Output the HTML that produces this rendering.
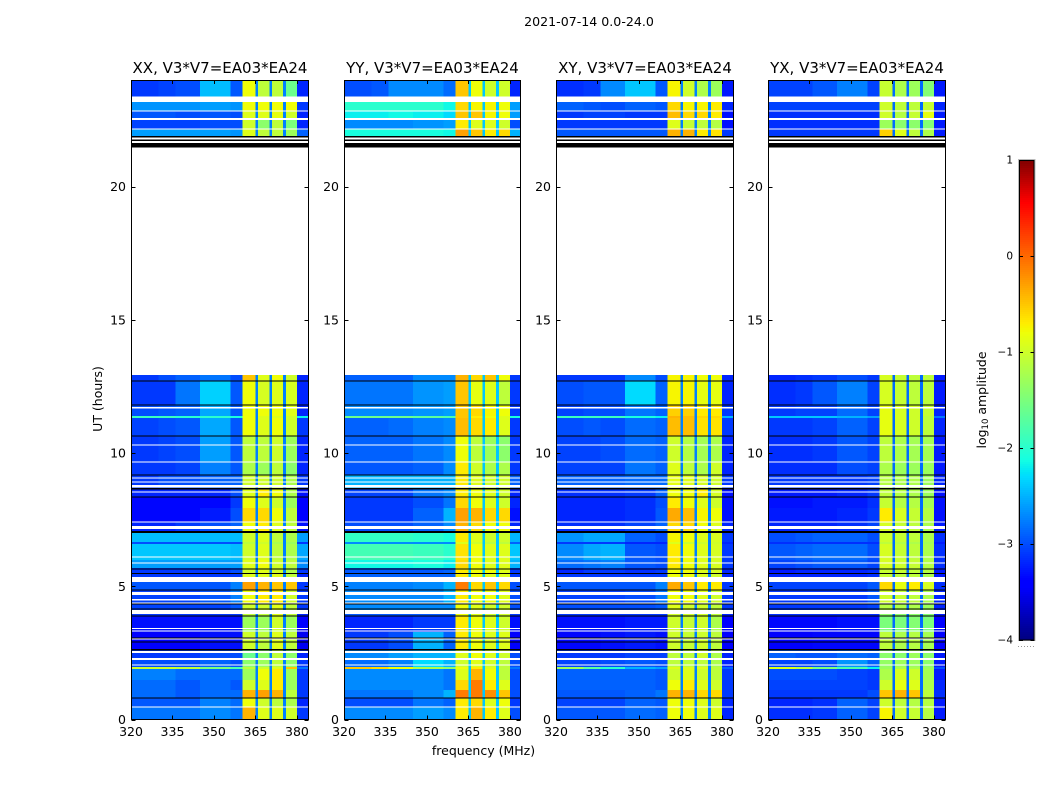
<!DOCTYPE html>
<html lang="en">
<head>
<meta charset="utf-8">
<title>2021-07-14 0.0-24.0</title>
<style>
html,body{margin:0;padding:0;background:#fff;width:1050px;height:800px;overflow:hidden}
svg{display:block}
text{font-family:"DejaVu Sans","Liberation Sans",sans-serif;fill:#000}
</style>
</head>
<body>
<svg id="figure" xmlns="http://www.w3.org/2000/svg" width="1050" height="800" viewBox="0 0 1050 800">
<text x="589" y="26" font-size="12.6" text-anchor="middle">2021-07-14 0.0-24.0</text>
<text x="483.5" y="755" font-size="12.5" text-anchor="middle">frequency (MHz)</text>
<text x="102" y="399" font-size="12.5" text-anchor="middle" transform="rotate(-90 102 399)">UT (hours)</text>
<text x="986" y="400" font-size="12.5" text-anchor="middle" transform="rotate(-90 986 400)">log<tspan font-size="8.5" dy="2">10</tspan><tspan dy="-2"> amplitude</tspan></text>
</svg>
<script>
// Time bands (UT hours), bottom to top; one value row in each series per band.
const hourBands = [[0,0.47],[0.47,0.81],[0.81,1.11],[1.11,1.48],[1.48,1.9],[1.9,1.97],[1.97,2.23],[2.23,2.61],[2.61,3.28],[3.28,3.88],[3.88,4.11],[4.11,4.33],[4.33,4.86],[4.86,5.16],[5.16,5.46],[5.46,5.68],[5.68,5.98],[5.98,6.59],[6.59,6.66],[6.66,7.0],[7.0,7.41],[7.41,7.94],[7.94,8.35],[8.35,8.69],[8.69,9.17],[9.17,9.66],[9.66,10.64],[10.64,11.31],[11.31,11.39],[11.39,11.8],[11.8,12.7],[12.7,12.93],[21.9,22.16],[22.16,22.5],[22.5,22.83],[22.83,23.39],[23.39,24]];
// Frequency columns (MHz) the ten values of each row apply to.
const freqBands = [[320,330],[330,336],[336,345],[345,356],[356,360.4],[360.4,365],[366,370],[371,375],[376,380],[380,384]];
const notchBands = [[365,366],[370,371],[375,376]];
const panelTitles = ["XX, V3*V7=EA03*EA24","YY, V3*V7=EA03*EA24","XY, V3*V7=EA03*EA24","YX, V3*V7=EA03*EA24"];
const xTicks = [320,335,350,365,380];
const yTicks = [0,5,10,15,20];
const colorTicks = [1,0,-1,-2,-3,-4];
// log10 amplitude read by eye, per band and frequency column.
const xxValues = [
[-2.8,-2.8,-2.8,-2.7,-2.8,-0.4,-0.9,-0.9,-1.0,-3.1],
[-2.95,-2.95,-2.95,-2.75,-2.85,-0.8,-1.0,-1.1,-1.2,-3.2],
[-2.85,-2.85,-2.95,-2.85,-2.85,-0.4,-0.3,-0.4,-1.1,-3.1],
[-2.85,-2.85,-2.95,-2.85,-2.95,-1.0,-0.9,-0.7,-1.3,-3.1],
[-2.75,-2.75,-2.85,-2.85,-2.85,-1.3,-0.8,-0.7,-1.3,-3.1],
[-1.0,-1.0,-1.1,-1.5,-1.8,-1.1,-1.0,-0.9,-0.5,-2.8],
[-3.0,-3.0,-3.0,-2.9,-3.0,-1.4,-1.3,-1.1,-1.4,-3.1],
[-3.1,-3.1,-3.1,-3.0,-3.0,-1.6,-1.4,-1.1,-1.4,-3.2],
[-3.4,-3.4,-3.4,-3.3,-3.3,-1.0,-1.1,-0.9,-1.1,-3.5],
[-3.3,-3.3,-3.3,-3.3,-3.3,-1.3,-1.3,-1.0,-1.3,-3.4],
[-3.1,-3.1,-3.1,-3.1,-3.1,-1.1,-1.1,-0.9,-1.1,-3.2],
[-3.05,-3.05,-3.05,-3.05,-2.95,-1.0,-1.0,-0.9,-1.1,-3.1],
[-3.05,-3.05,-3.05,-2.95,-2.75,-0.8,-0.7,-0.7,-1.0,-3.1],
[-2.95,-2.95,-2.95,-2.95,-2.75,-0.3,-0.4,-0.5,-0.5,-3.1],
[-3.1,-3.1,-3.1,-3.1,-3.1,-0.9,-0.9,-0.9,-1.1,-3.2],
[-3.1,-3.1,-3.1,-3.1,-3.0,-1.0,-0.9,-1.0,-1.2,-3.1],
[-2.6,-2.6,-2.6,-2.6,-2.6,-0.9,-0.8,-1.0,-1.1,-2.7],
[-2.4,-2.4,-2.4,-2.4,-2.45,-1.0,-0.9,-1.1,-1.2,-2.55],
[-3.0,-3.0,-3.0,-3.0,-3.0,-1.1,-1.0,-1.2,-1.3,-3.1],
[-2.45,-2.45,-2.45,-2.45,-2.45,-1.0,-0.9,-1.1,-1.2,-2.6],
[-3.2,-3.2,-3.1,-3.0,-2.9,-0.8,-0.7,-0.9,-1.1,-3.3],
[-3.35,-3.35,-3.35,-3.25,-3.0,-0.6,-0.6,-0.8,-1.1,-3.4],
[-3.35,-3.35,-3.35,-3.35,-3.1,-0.8,-0.9,-1.0,-1.3,-3.4],
[-3.2,-3.2,-3.2,-3.2,-3.0,-0.9,-0.7,-0.8,-1.2,-3.3],
[-3.1,-3.0,-3.0,-2.9,-2.9,-1.0,-1.0,-1.0,-1.2,-3.1],
[-3.1,-3.1,-3.05,-2.75,-2.95,-1.2,-1.3,-1.1,-1.4,-3.2],
[-3.1,-3.05,-3.0,-2.6,-2.95,-1.1,-1.1,-1.0,-1.3,-3.2],
[-3.05,-3.0,-2.95,-2.55,-2.95,-0.8,-0.9,-0.8,-1.0,-3.1],
[-1.9,-1.9,-2.0,-2.0,-2.1,-0.8,-0.9,-0.9,-1.0,-2.2],
[-3.0,-2.95,-2.9,-2.55,-2.95,-0.8,-0.8,-0.8,-0.9,-3.2],
[-3.1,-3.1,-2.8,-2.35,-2.95,-0.8,-0.95,-0.9,-0.95,-3.2],
[-3.1,-3.0,-2.9,-2.8,-3.0,-0.5,-0.9,-0.8,-1.0,-3.2],
[-2.6,-2.6,-2.6,-2.6,-2.65,-0.9,-1.1,-1.1,-1.3,-2.9],
[-3.05,-3.05,-3.05,-3.0,-3.0,-1.0,-1.4,-1.1,-1.5,-3.2],
[-2.95,-2.95,-3.0,-2.95,-3.0,-0.9,-0.9,-0.85,-1.0,-3.2],
[-2.65,-2.65,-2.65,-2.6,-2.65,-0.8,-0.8,-0.8,-0.8,-3.1],
[-3.1,-3.05,-3.0,-2.45,-2.95,-0.8,-1.1,-1.1,-1.6,-3.2]
];
const yyValues = [
[-2.7,-2.7,-2.7,-2.6,-2.7,-0.7,-0.4,-0.7,-0.9,-3.0],
[-3.0,-3.0,-3.0,-2.8,-2.9,-0.7,-0.6,-0.9,-0.8,-3.1],
[-2.8,-2.8,-2.8,-2.7,-2.5,-0.1,-0.1,-0.2,-0.5,-3.0],
[-2.7,-2.7,-2.7,-2.7,-2.8,-0.6,-0.1,-0.7,-0.9,-3.0],
[-2.7,-2.7,-2.7,-2.7,-2.8,-0.9,-0.4,-0.8,-1.1,-3.0],
[-0.5,-0.6,-0.8,-1.2,-1.4,-0.8,-0.7,-0.9,-1.1,-2.8],
[-2.85,-2.85,-2.75,-2.3,-2.5,-1.0,-0.9,-1.0,-1.1,-3.0],
[-2.7,-2.7,-2.6,-2.5,-2.5,-0.9,-0.8,-0.9,-1.0,-3.0],
[-3.1,-3.1,-3.0,-2.5,-2.9,-0.7,-0.8,-0.9,-0.9,-3.4],
[-3.2,-3.2,-3.2,-3.1,-3.1,-0.7,-0.8,-0.9,-1.0,-3.3],
[-2.95,-2.95,-2.95,-2.95,-2.95,-0.8,-0.9,-1.0,-1.0,-3.1],
[-2.7,-2.7,-2.7,-2.7,-2.7,-0.8,-0.9,-1.0,-1.0,-3.0],
[-2.7,-2.7,-2.7,-2.7,-2.5,-0.7,-0.8,-0.8,-0.9,-3.0],
[-2.75,-2.75,-2.75,-2.7,-2.5,-0.1,-0.6,-0.5,-0.6,-3.0],
[-2.9,-2.9,-2.9,-2.9,-2.9,-0.7,-0.8,-0.9,-0.9,-3.1],
[-2.95,-2.95,-2.95,-2.95,-2.9,-0.7,-0.8,-0.8,-0.9,-3.1],
[-2.15,-2.15,-2.15,-2.1,-2.2,-0.6,-0.8,-0.9,-0.9,-2.5],
[-1.85,-1.85,-1.85,-1.9,-2.0,-0.65,-0.8,-0.9,-0.9,-2.4],
[-2.7,-2.7,-2.7,-2.7,-2.7,-0.9,-1.0,-1.1,-1.1,-2.9],
[-1.95,-1.95,-1.95,-2.0,-2.1,-0.7,-0.9,-1.0,-1.0,-2.5],
[-3.0,-3.0,-3.0,-2.9,-2.7,-0.4,-0.6,-0.8,-0.8,-3.2],
[-3.1,-3.1,-3.1,-2.9,-2.5,-0.3,-0.4,-0.6,-0.6,-3.3],
[-3.1,-3.1,-3.1,-3.0,-2.8,-0.6,-0.8,-0.9,-1.0,-3.2],
[-3.05,-3.05,-3.05,-2.8,-2.7,-0.7,-0.8,-0.9,-1.0,-3.2],
[-2.5,-2.5,-2.5,-2.5,-2.5,-0.7,-0.9,-1.0,-1.0,-2.9],
[-2.95,-2.95,-2.95,-2.9,-2.7,-0.7,-1.0,-1.2,-1.2,-3.1],
[-2.9,-2.9,-2.9,-2.8,-2.7,-0.8,-1.1,-1.3,-1.4,-3.1],
[-2.9,-2.9,-2.85,-2.75,-2.7,-0.45,-0.6,-0.7,-0.9,-3.1],
[-1.6,-1.6,-1.6,-1.7,-1.8,-0.5,-0.7,-0.8,-0.9,-2.1],
[-2.7,-2.7,-2.7,-2.65,-2.6,-0.5,-0.6,-0.75,-0.8,-3.1],
[-2.8,-2.8,-2.8,-2.65,-2.6,-0.5,-0.85,-0.9,-1.1,-3.1],
[-2.9,-2.9,-2.9,-2.7,-2.7,-0.4,-0.6,-0.5,-0.8,-3.1],
[-2.1,-2.1,-2.1,-2.1,-2.15,-0.3,-0.5,-0.7,-0.6,-2.5],
[-2.7,-2.7,-2.7,-2.65,-2.6,-0.7,-0.9,-0.9,-1.0,-3.0],
[-2.2,-2.2,-2.15,-2.2,-2.3,-0.5,-0.5,-0.75,-0.8,-2.6],
[-2.0,-2.0,-2.0,-2.0,-2.15,-0.6,-0.75,-0.75,-0.8,-2.6],
[-3.0,-2.95,-2.7,-2.7,-2.85,-0.5,-0.8,-1.0,-1.0,-3.2]
];
const xyValues = [
[-2.95,-2.95,-2.95,-2.85,-2.9,-0.8,-0.8,-0.9,-0.9,-3.2],
[-3.05,-3.05,-3.05,-2.9,-2.95,-0.8,-0.8,-0.9,-1.0,-3.2],
[-2.95,-2.95,-2.95,-2.9,-2.8,-0.4,-0.4,-0.6,-0.6,-3.1],
[-2.9,-2.9,-2.9,-2.9,-2.95,-0.8,-0.7,-0.9,-1.0,-3.1],
[-2.9,-2.9,-2.9,-2.9,-2.95,-1.0,-0.9,-1.0,-1.1,-3.1],
[-1.3,-1.7,-2.0,-2.5,-2.6,-0.9,-0.9,-0.9,-1.1,-2.9],
[-3.05,-3.05,-3.0,-2.95,-3.0,-1.1,-1.1,-1.1,-1.2,-3.2],
[-3.1,-3.1,-3.1,-3.05,-3.05,-1.1,-1.1,-1.0,-1.2,-3.2],
[-3.35,-3.35,-3.3,-3.25,-3.3,-1.0,-1.05,-1.0,-1.1,-3.4],
[-3.3,-3.3,-3.3,-3.25,-3.25,-1.0,-1.05,-1.0,-1.2,-3.4],
[-3.1,-3.1,-3.1,-3.1,-3.1,-1.0,-1.0,-1.0,-1.1,-3.2],
[-3.0,-3.0,-3.0,-3.0,-2.95,-0.9,-1.0,-1.0,-1.1,-3.1],
[-3.05,-3.05,-3.05,-3.0,-2.8,-0.8,-0.8,-0.9,-1.0,-3.1],
[-2.95,-2.95,-2.95,-2.95,-2.75,-0.35,-0.5,-0.7,-0.7,-3.1],
[-3.1,-3.1,-3.1,-3.1,-3.1,-0.8,-0.8,-0.9,-1.0,-3.2],
[-3.2,-3.1,-3.1,-3.15,-3.1,-0.8,-0.8,-0.9,-0.95,-3.2],
[-2.85,-2.8,-2.75,-2.95,-3.0,-0.7,-0.8,-0.9,-0.95,-3.1],
[-2.7,-2.55,-2.5,-2.95,-3.0,-0.7,-0.8,-0.9,-0.95,-3.1],
[-3.1,-3.1,-3.1,-3.2,-3.2,-0.9,-1.0,-1.0,-1.0,-3.2],
[-2.65,-2.55,-2.55,-2.9,-3.0,-0.75,-0.8,-0.9,-0.95,-3.1],
[-3.15,-3.15,-3.15,-3.05,-2.9,-0.6,-0.6,-0.8,-0.9,-3.2],
[-3.2,-3.2,-3.2,-3.15,-2.95,-0.35,-0.45,-0.75,-0.8,-3.3],
[-3.2,-3.2,-3.2,-3.15,-3.0,-0.7,-0.8,-0.9,-1.0,-3.3],
[-3.15,-3.15,-3.15,-3.1,-2.9,-0.8,-0.8,-0.7,-0.95,-3.3],
[-2.9,-2.9,-2.9,-2.85,-2.85,-0.85,-0.9,-0.95,-1.0,-3.1],
[-3.05,-3.05,-3.05,-2.8,-2.9,-0.9,-1.1,-1.2,-1.0,-3.2],
[-3.05,-3.05,-3.0,-2.85,-2.9,-1.0,-1.15,-1.25,-1.2,-3.2],
[-3.0,-2.95,-3.0,-2.85,-2.9,-0.45,-0.45,-0.65,-0.65,-3.1],
[-1.9,-1.9,-1.9,-2.1,-2.2,-0.4,-0.45,-0.6,-0.6,-2.5],
[-3.05,-3.0,-3.0,-2.8,-2.9,-0.55,-0.55,-0.7,-0.7,-3.1],
[-3.0,-2.95,-2.95,-2.3,-2.9,-0.75,-0.75,-0.85,-0.85,-3.2],
[-3.1,-3.1,-3.1,-2.7,-3.0,-0.75,-0.75,-0.8,-0.8,-3.2],
[-2.95,-2.95,-2.95,-2.95,-2.95,-0.4,-0.4,-0.7,-0.65,-3.1],
[-3.1,-3.1,-3.1,-3.1,-3.1,-0.9,-1.05,-1.1,-1.15,-3.3],
[-3.1,-3.05,-3.05,-3.1,-3.1,-0.45,-0.6,-0.6,-0.7,-3.3],
[-2.9,-2.95,-3.0,-2.9,-2.95,-0.6,-0.75,-0.75,-0.7,-3.2],
[-3.15,-3.1,-2.7,-2.4,-2.95,-0.75,-1.0,-1.2,-1.3,-3.25]
];
const yxValues = [
[-3.15,-3.15,-3.1,-2.9,-3.05,-0.75,-1.0,-1.05,-1.15,-3.25],
[-3.2,-3.2,-3.15,-2.9,-3.05,-1.0,-1.1,-1.15,-1.15,-3.25],
[-3.1,-3.1,-3.1,-3.1,-3.0,-0.5,-0.4,-0.5,-1.1,-3.15],
[-3.05,-3.05,-3.05,-3.05,-3.1,-1.0,-0.85,-0.9,-1.2,-3.2],
[-3.0,-3.0,-3.0,-3.05,-3.1,-1.2,-0.95,-1.0,-1.25,-3.25],
[-0.9,-1.1,-1.5,-1.8,-2.2,-1.3,-1.2,-1.2,-1.3,-3.0],
[-3.05,-3.05,-3.0,-2.65,-2.9,-1.35,-1.3,-1.3,-1.4,-3.25],
[-2.9,-2.95,-2.95,-2.85,-2.9,-1.4,-1.4,-1.3,-1.4,-3.25],
[-3.4,-3.4,-3.35,-3.35,-3.35,-1.1,-1.2,-1.15,-1.25,-3.45],
[-3.35,-3.35,-3.35,-3.3,-3.3,-1.5,-1.5,-1.45,-1.5,-3.4],
[-3.15,-3.15,-3.15,-3.15,-3.15,-1.4,-1.4,-1.4,-1.45,-3.25],
[-3.1,-3.1,-3.1,-3.1,-3.05,-1.15,-1.2,-1.2,-1.3,-3.2],
[-3.1,-3.1,-3.1,-3.1,-2.95,-1.0,-1.05,-1.1,-1.2,-3.2],
[-3.05,-3.05,-3.05,-3.05,-2.95,-0.6,-0.85,-0.7,-0.95,-3.15],
[-3.2,-3.2,-3.2,-3.2,-3.15,-1.05,-1.1,-1.1,-1.2,-3.25],
[-3.25,-3.2,-3.2,-3.2,-3.15,-1.05,-1.05,-1.1,-1.15,-3.25],
[-3.05,-3.0,-2.95,-2.95,-3.05,-0.95,-1.0,-1.05,-1.15,-3.15],
[-2.95,-2.9,-2.85,-2.85,-3.0,-0.95,-1.05,-1.1,-1.2,-3.15],
[-3.15,-3.15,-3.15,-3.15,-3.15,-1.1,-1.15,-1.2,-1.25,-3.25],
[-3.0,-2.95,-2.9,-2.9,-3.0,-1.0,-1.05,-1.1,-1.2,-3.15],
[-3.2,-3.2,-3.2,-3.15,-3.05,-0.95,-1.05,-1.1,-1.2,-3.25],
[-3.25,-3.25,-3.25,-3.2,-3.1,-0.7,-0.95,-1.05,-1.15,-3.3],
[-3.3,-3.3,-3.25,-3.25,-3.15,-1.05,-1.15,-1.15,-1.25,-3.3],
[-3.25,-3.25,-3.25,-3.2,-3.1,-1.1,-1.15,-1.2,-1.3,-3.3],
[-3.1,-3.1,-3.1,-3.1,-3.05,-1.15,-1.2,-1.2,-1.3,-3.2],
[-3.15,-3.15,-3.15,-3.0,-3.05,-1.2,-1.3,-1.3,-1.3,-3.25],
[-3.15,-3.15,-3.1,-2.95,-3.05,-1.1,-1.2,-1.25,-1.25,-3.25],
[-3.1,-3.1,-3.05,-2.9,-3.05,-0.85,-0.95,-1.0,-1.1,-3.2],
[-2.4,-2.4,-2.4,-2.5,-2.6,-0.85,-0.95,-1.0,-1.1,-2.8],
[-3.1,-3.05,-3.05,-2.85,-3.05,-0.85,-0.95,-1.0,-1.05,-3.2],
[-3.15,-3.1,-2.95,-2.75,-3.05,-0.95,-1.05,-1.1,-1.1,-3.25],
[-3.2,-3.15,-3.1,-3.0,-3.1,-0.95,-1.05,-1.1,-1.1,-3.25],
[-3.1,-3.1,-3.1,-3.1,-3.1,-0.55,-0.9,-1.1,-1.2,-3.25],
[-3.15,-3.15,-3.15,-3.15,-3.15,-1.3,-1.4,-1.4,-1.45,-3.25],
[-3.15,-3.15,-3.15,-3.15,-3.15,-1.0,-1.15,-1.05,-0.85,-3.25],
[-3.05,-3.05,-3.05,-3.05,-3.05,-1.0,-1.1,-1.1,-1.05,-3.2],
[-3.05,-3.05,-2.95,-2.75,-3.05,-1.05,-1.2,-1.3,-1.45,-3.25]
];
const seriesValues = [xxValues,yyValues,xyValues,yxValues];
const notchValues = [-2.75,-2.4,-2.75,-2.85];
// Flagged time ranges (hours): white gaps are blanked, black lines are zero-amplitude.
const whiteGaps = [[11.67,11.72],[10.28,10.32],[9.64,9.68],[9.04,9.08],[8.89,8.93],[8.71,8.8],[8.52,8.56],[7.39,7.43],[7.15,7.26],[6.08,6.12],[5.85,5.89],[5.16,5.35],[4.67,4.78],[4.47,4.52],[4.35,4.39],[3.96,4.11],[3.4,3.43],[3.3,3.34],[3.0,3.04],[2.5,2.57],[2.23,2.31],[2.03,2.06],[0.45,0.49],[23.17,23.39],[22.81,22.85],[22.5,22.57],[22.14,22.18]];
const blackLines = [[12.68,12.72],[11.78,11.82],[10.62,10.66],[9.15,9.19],[8.63,8.69],[8.33,8.37],[7.0,7.07],[5.63,5.67],[5.46,5.5],[4.84,4.88],[4.31,4.35],[4.13,4.17],[3.86,3.9],[3.04,3.08],[2.89,2.93],[2.59,2.65],[0.79,0.83],[21.85,21.9],[21.72,21.77],[21.47,21.63]];

const NS = "http://www.w3.org/2000/svg";
const svg = document.getElementById("figure");
const panelLeft = [131,344,556,768];
const panelWidth = 177, plotTop = 80, plotBottom = 719.5;
const fMin = 320, fMax = 384, hMin = 0, hMax = 24;
const cbLeft = 1019, cbRight = 1034.5, cbTop = 160, cbBottom = 640;

function xScale(panel, f){ return panelLeft[panel] + (f - fMin) / (fMax - fMin) * panelWidth; }
function yScale(h){ return plotBottom - (h - hMin) / (hMax - hMin) * (plotBottom - plotTop); }
function cbScale(v){ return cbBottom - (v + 4) / 5 * (cbBottom - cbTop); }
function clamp(x){ return Math.max(0, Math.min(1, x)); }
function jet(v){
  const t = clamp((v + 4) / 5);
  const r = clamp(Math.min((t - 0.35) / 0.31, (1.0 - t) / 0.178 + 0.5 > 1 ? 1 : (1.0 - t) / 0.178 + 0.5));
  const g = clamp(Math.min((t - 0.125) / 0.25, (0.91 - t) / 0.27));
  const b = clamp(Math.min(t / 0.11 * 0.5 + 0.5, (0.65 - t) / 0.31));
  return "rgb(" + Math.round(r*255) + "," + Math.round(g*255) + "," + Math.round(b*255) + ")";
}
function shape(tag, parent, props){
  const el = document.createElementNS(NS, tag);
  for (const k in props) el.setAttribute(k, props[k]);
  parent.appendChild(el);
  return el;
}
function hRect(parent, panel, f0, f1, h0, h1, fill){
  const x0 = xScale(panel, f0), x1 = xScale(panel, f1), y0 = yScale(h1), y1 = yScale(h0);
  return shape("rect", parent, {x:x0, y:y0, width:x1-x0, height:y1-y0, fill:fill, "shape-rendering":"crispEdges"});
}

seriesValues.forEach(function(values, p){
  const g = shape("g", svg, {});
  
  
  values.forEach(function(row, r){
    const band = hourBands[r];
    row.forEach(function(v, c){
      const cell = hRect(g, p, freqBands[c][0], freqBands[c][1], band[0], band[1], jet(v));
      
      
    });
    notchBands.forEach(function(n){
      const notch = hRect(g, p, n[0], n[1], band[0], band[1], jet(notchValues[p]));
      
      
    });
  });
  whiteGaps.forEach(function(w){
    const gap = hRect(g, p, fMin, fMax, w[0], w[1], "#fff");
    
    
  });
  blackLines.forEach(function(b){
    const line = hRect(g, p, fMin, fMax, b[0], b[1], "#000");
    
    
  });
  const width = p === 1 ? 176 : panelWidth;
  const left = panelLeft[p] + 0.5, right = panelLeft[p] + width + 0.5;
  const frame = shape("rect", g, {x:left, y:plotTop+0.5, width:width, height:plotBottom-plotTop-0.5, fill:"none", stroke:"#000", "stroke-width":1});
  
  
  xTicks.forEach(function(t){
    const x = Math.round(xScale(p, t)) + 0.5;
    const bottomTick = shape("line", g, {x1:x, x2:x, y1:plotBottom, y2:plotBottom-4, stroke:"#000"});
    
    
    const topTick = shape("line", g, {x1:x, x2:x, y1:plotTop, y2:plotTop+4, stroke:"#000"});
    
    
    const label = shape("text", g, {x:xScale(p, t), y:736, "font-size":12.5, "text-anchor":"middle"});
    label.textContent = String(t);
    
    
  });
  yTicks.forEach(function(t){
    const y = Math.round(yScale(t)) + 0.5;
    const leftTick = shape("line", g, {x1:left, x2:left+4, y1:y, y2:y, stroke:"#000"});
    
    
    const rightTick = shape("line", g, {x1:right, x2:right-4, y1:y, y2:y, stroke:"#000"});
    
    
    const label = shape("text", g, {x:panelLeft[p]-5, y:yScale(t)+4.5, "font-size":12.5, "text-anchor":"end"});
    label.textContent = String(t);
    
    
  });
  const title = shape("text", g, {x:panelLeft[p]+width/2+0.5, y:73, "font-size":15, "text-anchor":"middle"});
  title.textContent = panelTitles[p];
  
  
});

const cb = shape("g", svg, {});


for (let y = cbTop; y < cbBottom; y += 2) {
  const v = -4 + (cbBottom - y - 1) / (cbBottom - cbTop) * 5;
  const swatch = shape("rect", cb, {x:cbLeft, y:y, width:cbRight-cbLeft, height:2, fill:jet(v), "shape-rendering":"crispEdges"});
  
  
}
const cbHalo = shape("rect", cb, {x:cbLeft-0.5, y:cbTop-0.5, width:cbRight-cbLeft+1, height:cbBottom-cbTop+1, fill:"none", stroke:"#bbb", "stroke-width":1});


const cbFrame = shape("rect", cb, {x:cbLeft+0.5, y:cbTop+0.5, width:cbRight-cbLeft-1, height:cbBottom-cbTop-0.5, fill:"none", stroke:"#000", "stroke-width":1});


colorTicks.forEach(function(t){
  const y = Math.round(cbScale(t)) + 0.5;
  const leftDash = shape("line", cb, {x1:cbLeft, x2:cbLeft+4, y1:y, y2:y, stroke:"#000"});
  
  
  const rightDash = shape("line", cb, {x1:cbRight-4, x2:cbRight, y1:y, y2:y, stroke:"#000"});
  
  
  const label = shape("text", cb, {x:1013, y:cbScale(t)+3.5, "font-size":10.5, "text-anchor":"end"});
  label.textContent = t < 0 ? "\u2212" + Math.abs(t) : String(t);
  
  
});
const dots = shape("line", cb, {x1:1018, x2:1035, y1:646.5, y2:646.5, stroke:"#999", "stroke-width":1, "stroke-dasharray":"1 2"});


</script>
</body>
</html>
